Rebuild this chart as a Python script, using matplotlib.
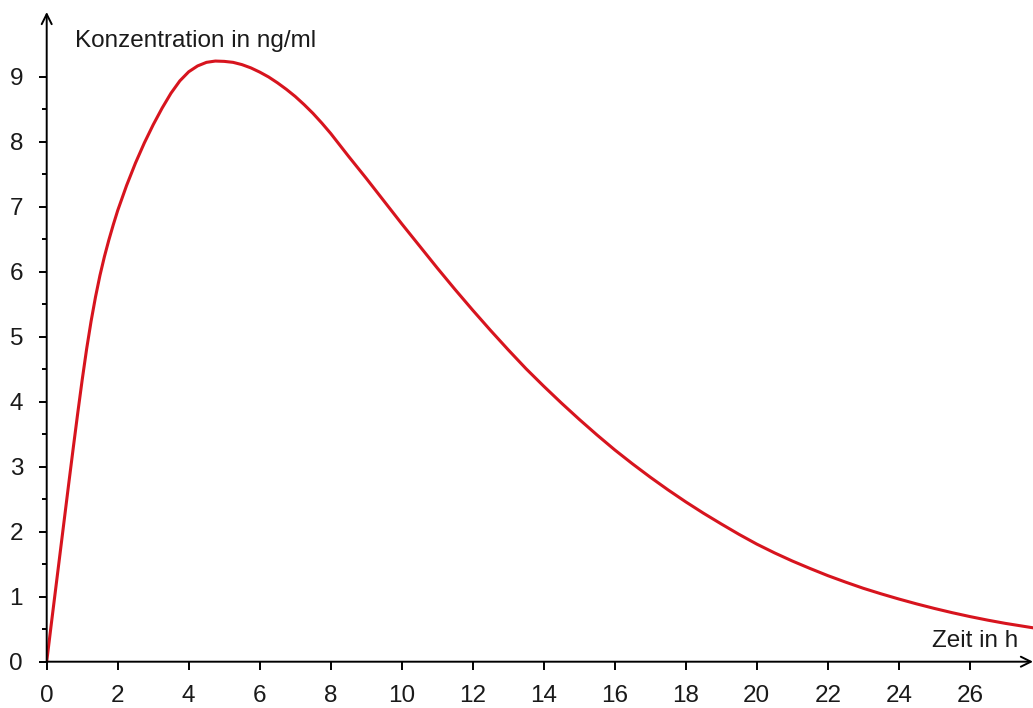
import matplotlib.pyplot as plt

# Konzentration (ng/ml) ueber der Zeit (h)
zeit = [0, 0.125, 0.25, 0.375, 0.5, 0.625, 0.75, 0.875, 1.0, 1.125, 1.25,
        1.375, 1.5, 1.625, 1.75, 1.875, 2.0, 2.25, 2.5, 2.75, 3.0, 3.25,
        3.5, 3.75, 4.0, 4.25, 4.5, 4.75, 5.0, 5.25, 5.5, 5.75, 6.0, 6.25,
        6.5, 6.75, 7.0, 7.25, 7.5, 7.75, 8.0, 8.5, 9.0, 9.5, 10.0, 10.5,
        11.0, 11.5, 12.0, 12.5, 13.0, 13.5, 14.0, 14.5, 15.0, 15.5, 16.0,
        16.5, 17.0, 17.5, 18.0, 18.5, 19.0, 19.5, 20.0, 20.5, 21.0, 21.5,
        22.0, 22.5, 23.0, 23.5, 24.0, 24.5, 25.0, 25.5, 26.0, 26.5, 27.0,
        27.8]
konz = [0, 0.56, 1.11, 1.66, 2.21, 2.76, 3.3, 3.83, 4.34, 4.815, 5.24,
        5.615, 5.946, 6.234, 6.49, 6.725, 6.945, 7.33, 7.675, 7.985, 8.265,
        8.52, 8.75, 8.94, 9.08, 9.17, 9.225, 9.245, 9.24, 9.225, 9.19, 9.14,
        9.075, 9.0, 8.91, 8.81, 8.70, 8.575, 8.44, 8.29, 8.13, 7.78, 7.44,
        7.09, 6.74, 6.40, 6.06, 5.73, 5.41, 5.10, 4.80, 4.51, 4.24, 3.98,
        3.73, 3.49, 3.26, 3.045, 2.84, 2.645, 2.46, 2.285, 2.12, 1.96, 1.81,
        1.675, 1.55, 1.435, 1.325, 1.225, 1.13, 1.045, 0.965, 0.89, 0.82,
        0.755, 0.695, 0.64, 0.59, 0.52]

x_ticks = list(range(0, 27, 2))
y_ticks = list(range(0, 10))
y_minor = [i + 0.5 for i in range(0, 9)]

plt.rcParams['font.family'] = ['Liberation Sans', 'DejaVu Sans']

fig = plt.figure(figsize=(10.33, 7.08), dpi=100)
ax = fig.add_axes([46.7 / 1033, (708 - 661.7) / 708, (1033 - 46.7) / 1033, (661.7 - 12) / 708])

ax.plot(zeit, konz, color='#d7141e', lw=2.2, solid_capstyle='round',
        solid_joinstyle='round')

ax.set_xlim(0, 27.78)
ax.set_ylim(0, 10)

for s in ax.spines.values():
    s.set_visible(False)

# Achsen mit Pfeilspitzen
pfeil = dict(arrowstyle='->', lw=1.4, color='black', mutation_scale=18,
             shrinkA=0, shrinkB=0)
ax.annotate('', xy=(1.0, 0), xytext=(0, 0), xycoords='axes fraction',
            arrowprops=pfeil, annotation_clip=False)
ax.annotate('', xy=(0, 1.0), xytext=(0, 0), xycoords='axes fraction',
            arrowprops=pfeil, annotation_clip=False)

ax.set_xticks(x_ticks)
ax.set_yticks(y_ticks)
ax.set_yticks(y_minor, minor=True)
ax.tick_params(axis='both', which='major', direction='out', length=6,
               width=1.4, labelsize=17.5, colors='black', labelcolor='#1a1a1a')
ax.tick_params(axis='y', which='minor', direction='out', length=3.5, width=1.4)
ax.tick_params(axis='x', pad=10.5)
ax.tick_params(axis='y', pad=11)

ax.text(0.8, 9.56, 'Konzentration in ng/ml', fontsize=17.5, color='#1a1a1a',
        ha='left', va='center')
ax.text(27.36, 0.32, 'Zeit in h', fontsize=17.5, color='#1a1a1a',
        ha='right', va='center')

fig.savefig('out.png', dpi=100)
